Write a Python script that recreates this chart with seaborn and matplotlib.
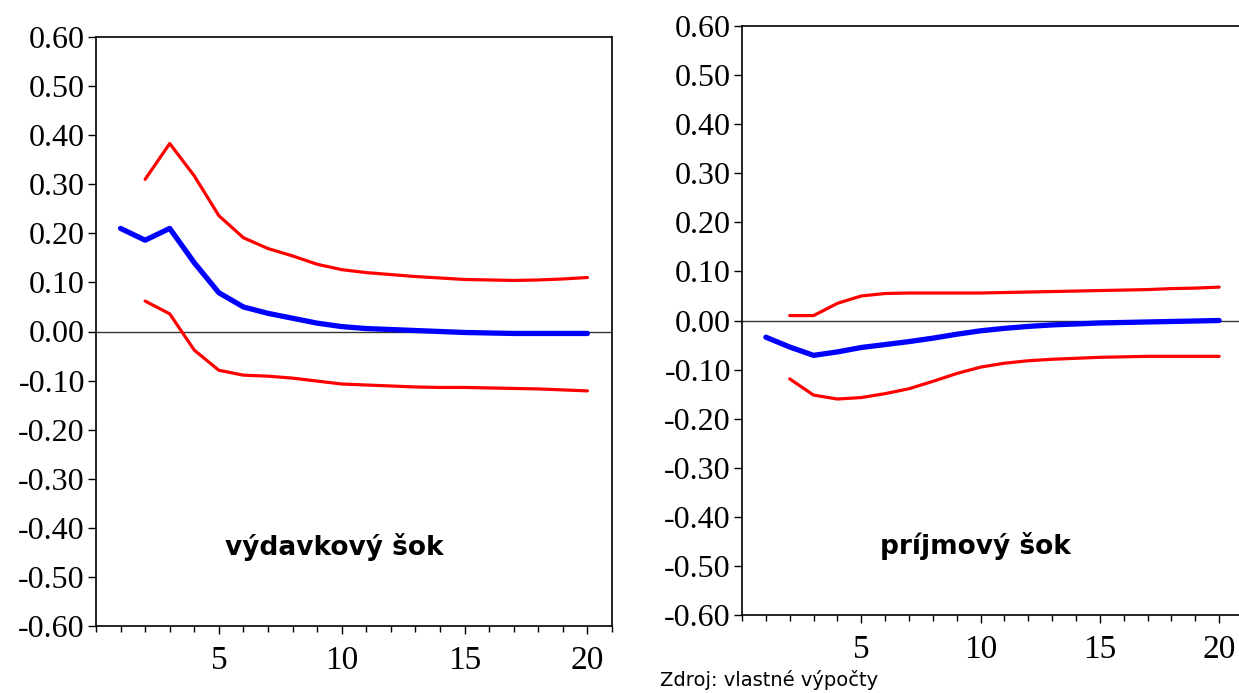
import matplotlib
matplotlib.use("Agg")
import matplotlib.pyplot as plt
import numpy as np
import pandas as pd
import seaborn as sns
from matplotlib.ticker import FixedLocator, MultipleLocator, FormatStrFormatter

# horizon (periods after shock)
periods = list(range(1, 21))

# spending shock: response + confidence bands (bands start at period 2)
spend_resp = [0.210, 0.186, 0.210, 0.140, 0.079, 0.050, 0.037, 0.027, 0.017, 0.010,
              0.006, 0.004, 0.002, 0.000, -0.002, -0.003, -0.004, -0.004, -0.004, -0.004]
spend_upper = [np.nan, 0.310, 0.383, 0.317, 0.236, 0.191, 0.169, 0.154, 0.137, 0.126,
               0.120, 0.116, 0.112, 0.109, 0.106, 0.105, 0.104, 0.105, 0.107, 0.110]
spend_lower = [np.nan, 0.062, 0.036, -0.038, -0.079, -0.089, -0.091, -0.095, -0.101, -0.107,
               -0.109, -0.111, -0.113, -0.114, -0.114, -0.115, -0.116, -0.117, -0.119, -0.121]

# revenue shock
rev_resp = [-0.034, -0.054, -0.071, -0.064, -0.055, -0.049, -0.043, -0.036, -0.028, -0.021,
            -0.016, -0.012, -0.009, -0.007, -0.005, -0.004, -0.003, -0.002, -0.001, 0.000]
rev_upper = [np.nan, 0.010, 0.010, 0.035, 0.050, 0.055, 0.056, 0.056, 0.056, 0.056,
             0.057, 0.058, 0.059, 0.060, 0.061, 0.062, 0.063, 0.065, 0.066, 0.068]
rev_lower = [np.nan, -0.119, -0.152, -0.160, -0.157, -0.149, -0.139, -0.124, -0.108, -0.095,
             -0.087, -0.082, -0.079, -0.077, -0.075, -0.074, -0.073, -0.073, -0.073, -0.073]

xticks = [5, 10, 15, 20]

sns.set_style("ticks")
plt.rcParams["font.family"] = ["Liberation Serif", "DejaVu Serif"]
plt.rcParams["axes.unicode_minus"] = False
plt.rcParams["text.color"] = "black"
plt.rcParams["xtick.color"] = "black"
plt.rcParams["ytick.color"] = "black"

fig = plt.figure(figsize=(12.39, 6.93), dpi=100)
W, H = 1239, 693
# axes boxes in pixels
ax_left = fig.add_axes([96 / W, 1 - 626 / H, (612 - 96) / W, (626 - 37) / H])
ax_right = fig.add_axes([742 / W, 1 - 615 / H, (1243 - 742) / W, (615 - 26) / H])


def draw_panel(ax, resp, upper, lower):
    df = pd.DataFrame({"period": periods, "resp": resp, "upper": upper, "lower": lower})
    ax.axhline(0, color="#333333", lw=1.0, zorder=1)
    sns.lineplot(data=df, x="period", y="upper", ax=ax, color="#ff0000", lw=2.3)
    sns.lineplot(data=df, x="period", y="lower", ax=ax, color="#ff0000", lw=2.3)
    sns.lineplot(data=df, x="period", y="resp", ax=ax, color="#0000ff", lw=3.8)
    ax.set_xlim(0, 21)
    ax.set_ylim(-0.6, 0.6)
    ax.set_xlabel("")
    ax.set_ylabel("")
    ax.xaxis.set_major_locator(FixedLocator(xticks))
    ax.xaxis.set_minor_locator(MultipleLocator(1))
    ax.yaxis.set_major_locator(MultipleLocator(0.1))
    ax.yaxis.set_major_formatter(FormatStrFormatter("%.2f"))
    ax.tick_params(axis="y", which="major", direction="out", length=6, width=1,
                   labelsize=23, pad=2)
    ax.tick_params(axis="x", which="major", direction="out", length=6, width=1,
                   labelsize=24, pad=8)
    ax.tick_params(axis="x", which="minor", direction="out", length=4, width=1)
    for s in ax.spines.values():
        s.set_linewidth(1.2)
        s.set_color("black")


draw_panel(ax_left, spend_resp, spend_upper, spend_lower)
draw_panel(ax_right, rev_resp, rev_upper, rev_lower)

fig.text(334 / W, 1 - 547 / H, "výdavkový šok", ha="center", va="center",
         fontsize=19, fontweight="bold", family="DejaVu Sans")
fig.text(975 / W, 1 - 546 / H, "príjmový šok", ha="center", va="center",
         fontsize=19, fontweight="bold", family="DejaVu Sans")
fig.text(660 / W, 1 - 680 / H, "Zdroj: vlastné výpočty", ha="left", va="center",
         fontsize=14, family="DejaVu Sans")

fig.savefig("out.png", dpi=100)
